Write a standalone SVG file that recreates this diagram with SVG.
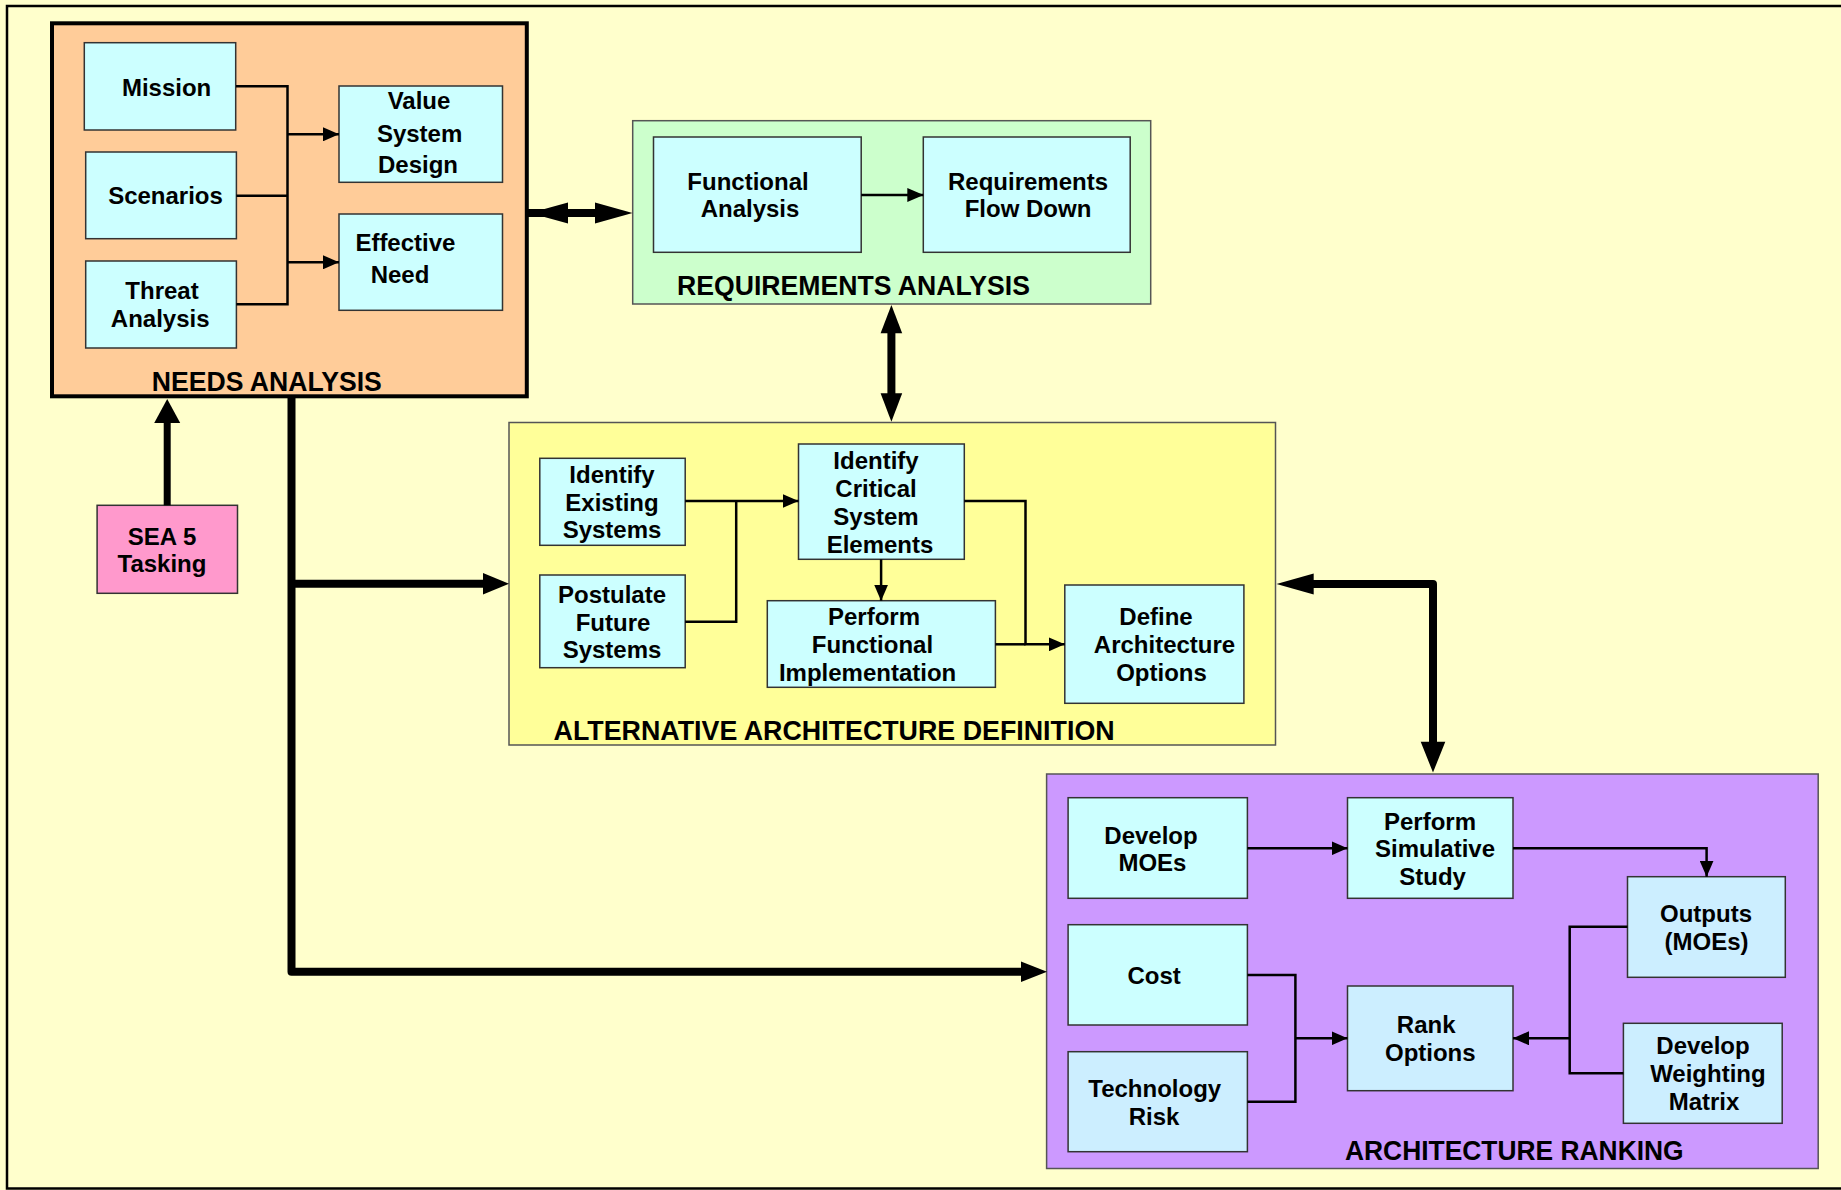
<svg xmlns="http://www.w3.org/2000/svg" width="1841" height="1190" viewBox="0 0 1841 1190">
<defs>
<style>
text{font-family:"Liberation Sans",Arial,sans-serif;font-weight:bold;fill:#000}
.lbl{font-size:24px;text-anchor:middle}
.ttl{font-size:26.8px}
.box{stroke:#333;stroke-width:1.5}
.cy{fill:#CCFFFF}
.lb{fill:#CCEEFF}
.grp{stroke:#555;stroke-width:1.5}
.thin{fill:none;stroke:#000;stroke-width:2.5}
.thick{fill:none;stroke:#000;stroke-width:8;stroke-linejoin:round}
.head{fill:#000}
</style>
<marker id="ah" markerUnits="userSpaceOnUse" markerWidth="16" markerHeight="14" refX="16" refY="7" orient="auto">
<path d="M0,0 L16,7 L0,14 z" fill="#000"/>
</marker>
</defs>
<rect x="0" y="0" width="1841" height="1190" fill="#FFFFCC"/>
<path d="M1841,6 H7 V1188.5 H1841" fill="none" stroke="#000" stroke-width="2.5"/>

<g id="needs-analysis">
<rect x="52" y="23.3" width="474.8" height="373" fill="#FFCC99" stroke="#000" stroke-width="4"/>
<text class="ttl" x="151.8" y="391" textLength="230" lengthAdjust="spacingAndGlyphs">NEEDS ANALYSIS</text>
</g>
<g id="mission"><rect class="box cy" x="84.3" y="42.7" width="151.4" height="87.3"/><text class="lbl" x="166.6" y="95.5">Mission</text></g>
<g id="scenarios"><rect class="box cy" x="85.7" y="152" width="150.7" height="86.7"/><text class="lbl" x="165.5" y="204">Scenarios</text></g>
<g id="threat-analysis"><rect class="box cy" x="85.7" y="261" width="150.7" height="87"/><text class="lbl" x="162" y="299">Threat</text><text class="lbl" x="160.2" y="326.7">Analysis</text></g>
<g id="value-system-design"><rect class="box cy" x="339" y="86" width="163.5" height="96.3"/><text class="lbl" x="419" y="108.8">Value</text><text class="lbl" x="419.6" y="141.5">System</text><text class="lbl" x="418" y="173.2">Design</text></g>
<g id="effective-need"><rect class="box cy" x="339" y="214" width="163.5" height="96.3"/><text class="lbl" x="405.4" y="251.2">Effective</text><text class="lbl" x="400" y="283.2">Need</text></g>

<g id="requirements-analysis">
<rect class="grp" x="632.7" y="120.7" width="518" height="183.3" fill="#CCFFCC"/>
<text class="ttl" x="677" y="294.5" textLength="353" lengthAdjust="spacingAndGlyphs">REQUIREMENTS ANALYSIS</text>
</g>
<g id="functional-analysis"><rect class="box cy" x="653.5" y="137" width="207.7" height="115.3"/><text class="lbl" x="748" y="189.8">Functional</text><text class="lbl" x="750" y="217.2">Analysis</text></g>
<g id="requirements-flow-down"><rect class="box cy" x="923.3" y="137" width="206.9" height="115.3"/><text class="lbl" x="1028" y="189.8">Requirements</text><text class="lbl" x="1028" y="217.2">Flow Down</text></g>

<g id="sea5-tasking"><rect x="97.1" y="505.3" width="140.4" height="88" fill="#FF99CC" stroke="#333" stroke-width="1.5"/><text class="lbl" x="162" y="544.5">SEA 5</text><text class="lbl" x="162" y="572.2">Tasking</text></g>

<g id="alternative-architecture-definition">
<rect class="grp" x="509" y="422.5" width="766.5" height="322.5" fill="#FFFF99"/>
<text class="ttl" x="553.6" y="740.3" textLength="561" lengthAdjust="spacingAndGlyphs">ALTERNATIVE ARCHITECTURE DEFINITION</text>
</g>
<g id="identify-existing-systems"><rect class="box cy" x="539.8" y="458.3" width="145.4" height="87"/><text class="lbl" x="612" y="483.2">Identify</text><text class="lbl" x="612" y="510.5">Existing</text><text class="lbl" x="612" y="538.2">Systems</text></g>
<g id="postulate-future-systems"><rect class="box cy" x="539.8" y="575" width="145.4" height="92.7"/><text class="lbl" x="612" y="603.2">Postulate</text><text class="lbl" x="613" y="630.5">Future</text><text class="lbl" x="612" y="658.2">Systems</text></g>
<g id="identify-critical-system-elements"><rect class="box cy" x="798.5" y="444" width="165.8" height="115.3"/><text class="lbl" x="876" y="469.2">Identify</text><text class="lbl" x="876" y="496.5">Critical</text><text class="lbl" x="876" y="524.8">System</text><text class="lbl" x="880" y="552.5">Elements</text></g>
<g id="perform-functional-implementation"><rect class="box cy" x="767.3" y="600.7" width="228.1" height="86.6"/><text class="lbl" x="874" y="624.5">Perform</text><text class="lbl" x="872.4" y="652.5">Functional</text><text class="lbl" x="867.6" y="680.5">Implementation</text></g>
<g id="define-architecture-options"><rect class="box cy" x="1064.8" y="585" width="179.1" height="118.3"/><text class="lbl" x="1156" y="624.8">Define</text><text class="lbl" x="1164.5" y="652.8">Architecture</text><text class="lbl" x="1161.5" y="680.5">Options</text></g>

<g id="architecture-ranking">
<rect class="grp" x="1046.6" y="774" width="771.6" height="394.5" fill="#CC99FF"/>
<text class="ttl" x="1345" y="1160.3" textLength="338.6" lengthAdjust="spacingAndGlyphs">ARCHITECTURE RANKING</text>
</g>
<g id="develop-moes"><rect class="box cy" x="1068.1" y="797.7" width="179.3" height="100.6"/><text class="lbl" x="1151" y="843.8">Develop</text><text class="lbl" x="1152.4" y="870.5">MOEs</text></g>
<g id="perform-simulative-study"><rect class="box cy" x="1347.5" y="797.7" width="165.5" height="100.6"/><text class="lbl" x="1430" y="829.5">Perform</text><text class="lbl" x="1435" y="857.2">Simulative</text><text class="lbl" x="1432.6" y="884.8">Study</text></g>
<g id="outputs-moes"><rect class="box lb" x="1627.5" y="876.7" width="157.8" height="100.6"/><text class="lbl" x="1706" y="922.2">Outputs</text><text class="lbl" x="1706.6" y="949.5">(MOEs)</text></g>
<g id="cost"><rect class="box cy" x="1068.1" y="924.7" width="179.3" height="100.3"/><text class="lbl" x="1154.2" y="983.8">Cost</text></g>
<g id="technology-risk"><rect class="box lb" x="1068.1" y="1051.7" width="179.3" height="100"/><text class="lbl" x="1154.7" y="1097.2">Technology</text><text class="lbl" x="1154" y="1124.8">Risk</text></g>
<g id="rank-options"><rect class="box lb" x="1347.5" y="986" width="165.5" height="104.7"/><text class="lbl" x="1426.2" y="1033.2">Rank</text><text class="lbl" x="1430.3" y="1060.5">Options</text></g>
<g id="develop-weighting-matrix"><rect class="box lb" x="1623.4" y="1023.3" width="158.8" height="100"/><text class="lbl" x="1703" y="1053.8">Develop</text><text class="lbl" x="1707.9" y="1081.5">Weighting</text><text class="lbl" x="1704" y="1109.8">Matrix</text></g>

<g id="connectors">
<path class="thin" d="M236,86.3 H287.5 V304.3 H236.4"/>
<path class="thin" d="M236.4,195.7 H287.5"/>
<path class="thin" d="M287.5,134.3 H339" marker-end="url(#ah)"/>
<path class="thin" d="M287.5,262.3 H339" marker-end="url(#ah)"/>
<path class="thin" d="M861.2,195 H923.3" marker-end="url(#ah)"/>
<path class="thin" d="M685.2,501 H798.5" marker-end="url(#ah)"/>
<path class="thin" d="M685.2,621.7 H736.2 V501"/>
<path class="thin" d="M881.1,559.3 V600.7" marker-end="url(#ah)"/>
<path class="thin" d="M964.3,501 H1025.5 V644.3 H1064.8" marker-end="url(#ah)"/>
<path class="thin" d="M995.4,644.3 H1025.5"/>
<path class="thin" d="M1247.4,848.3 H1347.5" marker-end="url(#ah)"/>
<path class="thin" d="M1513,848.3 H1706.6 V876.7" marker-end="url(#ah)"/>
<path class="thin" d="M1247.4,975 H1295.4 V1101.7 H1247.4"/>
<path class="thin" d="M1295.4,1038.3 H1347.5" marker-end="url(#ah)"/>
<path class="thin" d="M1627.5,926.7 H1569.7 V1073.3 H1623.4"/>
<path class="thin" d="M1569.7,1038.3 H1513" marker-end="url(#ah)"/>

<path class="thick" d="M528,213 H600"/>
<polygon class="head" points="530,213 568,202.5 568,223.5"/>
<polygon class="head" points="595,202.5 632.5,213 595,223.5"/>
<path class="thick" d="M891.4,320 V405"/>
<polygon class="head" points="891.4,305 902.2,333.3 880.6,333.3"/>
<polygon class="head" points="880.6,393.3 902.2,393.3 891.4,421.7"/>
<path class="thick" d="M291.5,398 V971.7 H1025"/>
<path class="thick" d="M291.5,583.7 H486"/>
<polygon class="head" points="483,573 509,583.7 483,594.4"/>
<polygon class="head" points="1021,961.4 1047,971.7 1021,982"/>
<path class="thick" d="M167.2,505.3 V418" style="stroke-width:7"/>
<polygon class="head" points="154.2,423 167.2,399 180.2,423"/>
<path class="thick" d="M1310,584 H1433 V745"/>
<polygon class="head" points="1313.7,573.5 1276.5,584 1313.7,594.5"/>
<polygon class="head" points="1420.7,741.7 1445.3,741.7 1433,772.5"/>
</g>
</svg>
